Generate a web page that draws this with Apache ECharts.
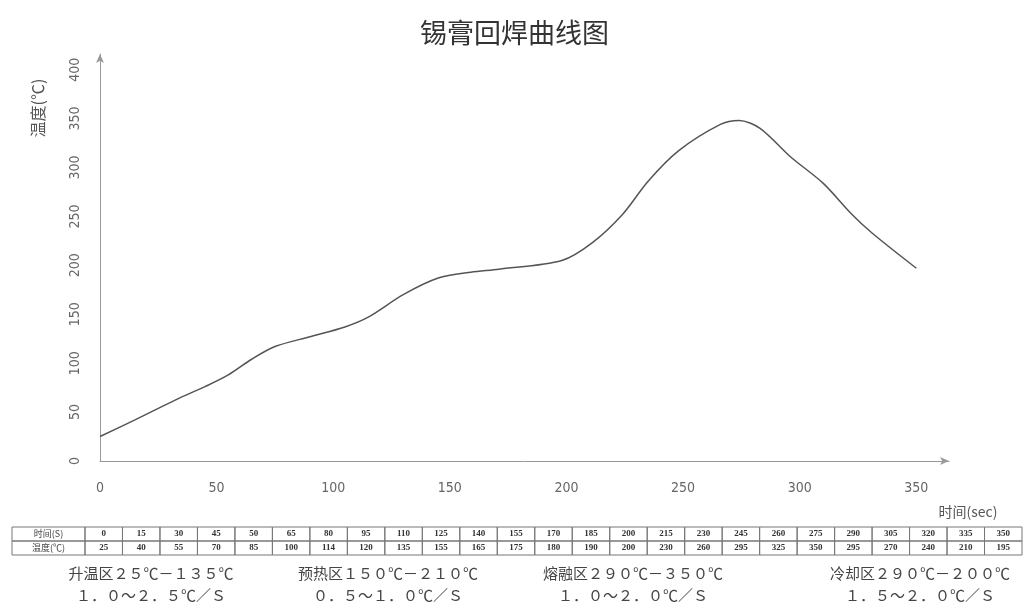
<!DOCTYPE html>
<html>
<head>
<meta charset="utf-8">
<title>锡膏回焊曲线图</title>
<script src="https://cdn.jsdelivr.net/npm/echarts@6/dist/echarts.min.js"></script>
<style>
  html, body { margin: 0; padding: 0; background: #fff; }
  #main { width: 1029px; height: 605px; }
</style>
</head>
<body>
<div id="main"></div>
<script>
// curve
var curveTime = [0, 15, 32, 45, 55, 65, 75, 90, 105, 115, 130, 145, 159, 171, 198, 211, 224, 235, 248, 266, 274, 283, 296, 310, 322, 331, 350];
var curveTemp = [25, 42, 62, 76, 88, 104, 117, 127, 137, 147, 170, 187, 193, 196, 205, 223, 252, 286, 317, 344, 348, 340, 311, 284, 253, 233, 197];

// table under the chart
var tableHead = ['时间(S)', '温度(℃)'];
var tableTime = ['0','15','30','45','50','65','80','95','110','125','140','155','170','185','200','215','230','245','260','275','290','305','320','335','350'];
var tableTemp = ['25','40','55','70','85','100','114','120','135','155','165','175','180','190','200','230','260','295','325','350','295','270','240','210','195'];

// zone notes
var zoneNames = ['升温区２５℃－１３５℃', '预热区１５０℃－２１０℃', '熔融区２９０℃－３５０℃', '冷却区２９０℃－２００℃'];
var zoneRates = ['１．０～２．５℃／Ｓ', '０．５～１．０℃／Ｓ', '１．０～２．０℃／Ｓ', '１．５～２．０℃／Ｓ'];
var zoneX = [151, 388, 633, 920];

var myChart = echarts.init(document.getElementById('main'));

var cjk = '"Noto Sans CJK SC", sans-serif';
var narrow = '"DejaVu Sans Condensed", "Liberation Sans Narrow", sans-serif';

var graphics = [];
// y axis name
graphics.push({
  type: 'text', x: 38, y: 108, rotation: Math.PI / 2,
  style: { text: '温度(℃)', font: '16px ' + cjk, fill: '#555', align: 'center', verticalAlign: 'middle' }
});
// x axis name
graphics.push({
  type: 'text', x: 968, y: 512,
  style: { text: '时间(sec)', font: '14px ' + cjk, fill: '#555', align: 'center', verticalAlign: 'middle' }
});

// table
var tx0 = 12, tx1 = 85, cw = 37.48, ty0 = 527, rh = 14;
var rows = [tableTime, tableTemp];
for (var r = 0; r < 2; r++) {
  var y = ty0 + r * rh;
  graphics.push({
    type: 'rect', shape: { x: tx0, y: y, width: tx1 - tx0, height: rh },
    style: { fill: 'none', stroke: '#777', lineWidth: 1 }
  });
  graphics.push({
    type: 'text', x: (tx0 + tx1) / 2, y: y + rh / 2,
    style: { text: tableHead[r], font: '9px ' + cjk, fill: '#444', align: 'center', verticalAlign: 'middle' }
  });
  for (var c = 0; c < rows[r].length; c++) {
    var x = tx1 + c * cw;
    graphics.push({
      type: 'rect', shape: { x: x, y: y, width: cw, height: rh },
      style: { fill: 'none', stroke: '#777', lineWidth: 1 }
    });
    graphics.push({
      type: 'text', x: x + cw / 2, y: y + rh / 2,
      style: { text: rows[r][c], font: 'bold 9px "Liberation Serif", serif', fill: '#333', align: 'center', verticalAlign: 'middle' }
    });
  }
}

// zone notes
for (var i = 0; i < zoneNames.length; i++) {
  graphics.push({
    type: 'text', x: zoneX[i], y: 573,
    style: { text: zoneNames[i], font: '15px ' + cjk, fill: '#444', align: 'center', verticalAlign: 'middle' }
  });
  graphics.push({
    type: 'text', x: zoneX[i], y: 595,
    style: { text: zoneRates[i], font: '15px ' + cjk, fill: '#444', align: 'center', verticalAlign: 'middle' }
  });
}

var option = {
  backgroundColor: '#fff',
  animation: false,
  title: {
    text: '锡膏回焊曲线图',
    left: 'center',
    top: 14,
    textStyle: { fontFamily: cjk, fontSize: 27, fontWeight: 'normal', color: '#333' }
  },
  grid: { left: 100, right: 80, top: 54, bottom: 144 },
  xAxis: {
    type: 'value',
    min: 0,
    max: 364,
    interval: 50,
    splitLine: { show: false },
    axisTick: { show: false },
    axisLine: { show: true, lineStyle: { color: '#999', width: 1 }, symbol: ['none', 'arrow'], symbolSize: [6, 9], onZero: false },
    axisLabel: { showMaxLabel: false, margin: 20, color: '#666', fontSize: 14, fontFamily: narrow }
  },
  yAxis: {
    type: 'value',
    min: 0,
    max: 416,
    interval: 50,
    splitLine: { show: false },
    axisTick: { show: false },
    axisLine: { show: true, lineStyle: { color: '#999', width: 1 }, symbol: ['none', 'arrow'], symbolSize: [6, 9] },
    axisLabel: { showMaxLabel: false, rotate: 90, margin: 18, color: '#666', fontSize: 14, fontFamily: narrow }
  },
  series: [{
    type: 'line',
    data: curveTime.map(function (t, k) { return [t, curveTemp[k]]; }),
    smooth: 0.3,
    showSymbol: false,
    lineStyle: { color: '#555', width: 1.5 }
  }],
  graphic: graphics
};
myChart.setOption(option);
</script>
</body>
</html>
